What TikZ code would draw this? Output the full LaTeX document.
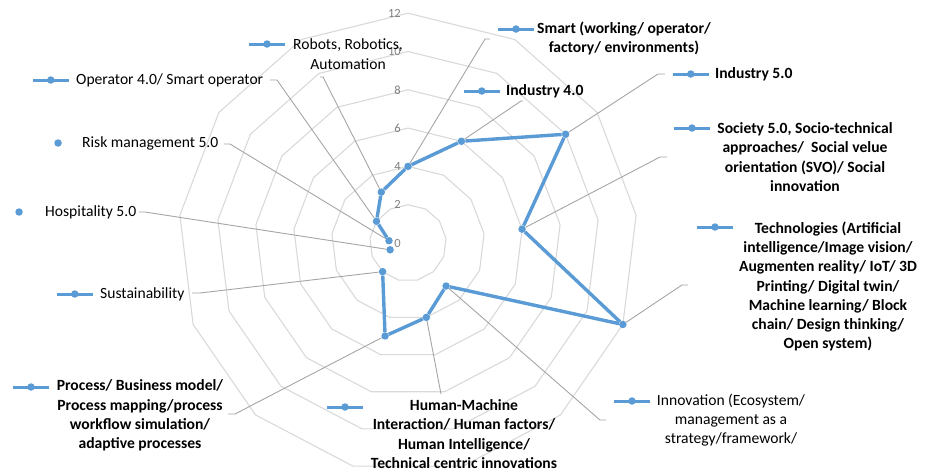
\documentclass[tikz,border=0pt]{standalone}
\usepackage{fontspec}
\setmainfont{Carlito}
\usetikzlibrary{positioning}
\definecolor{seriesblue}{HTML}{5B9BD5}
\definecolor{gridgray}{HTML}{D9D9D9}
\definecolor{leadgray}{HTML}{A5A5A5}
\definecolor{tickgray}{HTML}{7F7F7F}

\begin{document}
\begin{tikzpicture}[x=1pt, y=-1pt, font=\fontsize{15.6}{19.3}\selectfont,
  ring/.style = {draw=gridgray, line width=1.1pt},
  leader/.style = {draw=leadgray, line width=0.9pt},
  serie/.style = {draw=seriesblue, line width=3.4pt, line join=round},
  dot/.style = {circle, fill=seriesblue, inner sep=0pt, minimum size=7.5pt},
  keyline/.style = {fill=seriesblue, inner sep=0pt, minimum width=36pt, minimum height=3pt, label={[dot]center:}},
  lbl/.style = {align=center, inner sep=0pt},
  bold/.style = {lbl, font=\fontsize{15.6}{19.3}\selectfont\bfseries},
  tick/.style = {anchor=east, inner sep=0pt, text=tickgray, font=\fontsize{12.5}{14}\selectfont}]

\useasboundingbox (0,0) rectangle (927,472);
\coordinate (c) at (408,243);

\foreach \v in {2,4,...,12}
  \draw[ring] ([shift={(-90:\v*19.15)}]c) \foreach \k in {1,...,12} { -- ([shift={(\k*360/13-90:\v*19.15)}]c) } -- cycle;

\foreach \v in {0,2,...,12}
  \node[tick] (t\v) at (401,243-\v*19.15) {\v};

\foreach \n/\k/\v in {smart/0/4, ind4/1/6, ind5/2/10, soc/3/6, tech/4/12, innov/5/3, hmi/6/4,
                      proc/7/5, sust/8/2, hosp/9/1, risk/10/1, oper/11/2, robot/12/3}
  \node[dot] (\n) at ([shift={(\k*360/13-90:\v*19.15)}]c) {};

\foreach \n/\x/\y/\s in {robot/320/77/3, oper/270/80/7, risk/224/144/6, hosp/139/212/6,
                         sust/192/293/8, proc/228/414/7, hmi/441/394/0, innov/606/420/-6,
                         tech/688/285/-6, soc/667/157/-7, ind5/665/74/-7, ind4/523/101/-2, smart/490/39/-5}
  {
  \coordinate (e\n) at (\x,\y);
  \draw[leader] (e\n) -- ++(\s,0) -- (\n);
  }

\draw[serie] (robot) -- (smart) -- (ind4) -- (ind5) -- (soc) -- (tech) -- (innov) -- (hmi) -- (proc) -- (sust);
\draw[serie] (risk) -- (oper) -- (robot);

\node[lbl] (lrobot) at (348,54) {Robots, Robotics,\\Automation};
\node[lbl, anchor=west] (loper) at (76,80) {Operator 4.0/ Smart operator};
\node[lbl, anchor=west] (lrisk) at (82,143) {Risk management 5.0};
\node[lbl, anchor=west] (lhosp) at (45,212) {Hospitality 5.0};
\node[lbl, anchor=west] (lsust) at (100,294) {Sustainability};
\node[bold] (lproc) at (140,415.5) {Process/ Business model/\\Process mapping/process\\workflow simulation/\\adaptive processes};
\node[bold] (lhmi) at (464,434) {Human-Machine\\Interaction/ Human factors/\\Human Intelligence/\\Technical centric innovations};
\node[lbl] (linnov) at (731,420) {Innovation (Ecosystem/\\management as a\\strategy/framework/};
\node[bold] (ltech) at (828,286.5) {Technologies (Artificial\\intelligence/Image vision/\\Augmenten reality/ IoT/ 3D\\Printing/ Digital twin/\\Machine learning/ Block\\chain/ Design thinking/\\Open system)};
\node[bold] (lsoc) at (805,157) {Society 5.0, Socio-technical\\approaches/\ \ Social velue\\orientation (SVO)/ Social\\innovation};
\node[bold, anchor=west] (lind5) at (715,74) {Industry 5.0};
\node[bold] (lsmart) at (624,38.5) {Smart (working/ operator/\\factory/ environments)};
\node[bold, anchor=west] (lind4) at (506,91) {Industry 4.0};

\node[keyline] (krobot) at (267,44) {};
\node[keyline, left=7pt of loper] (koper) {};
\node[dot, left=20pt of lrisk] (krisk) {};
\node[dot, left=22pt of lhosp] (khosp) {};
\node[keyline, left=7pt of lsust] (ksust) {};
\node[keyline] (kproc) at (31,387) {};
\node[keyline] (khmi) at (345,407) {};
\node[keyline] (kinnov) at (632,401) {};
\node[keyline] (ktech) at (715,227) {};
\node[keyline] (ksoc) at (692,128) {};
\node[keyline, left=6pt of lind5] (kind5) {};
\node[keyline] (ksmart) at (516,29) {};
\node[keyline, left=6pt of lind4] (kind4) {};
\end{tikzpicture}
\end{document}
